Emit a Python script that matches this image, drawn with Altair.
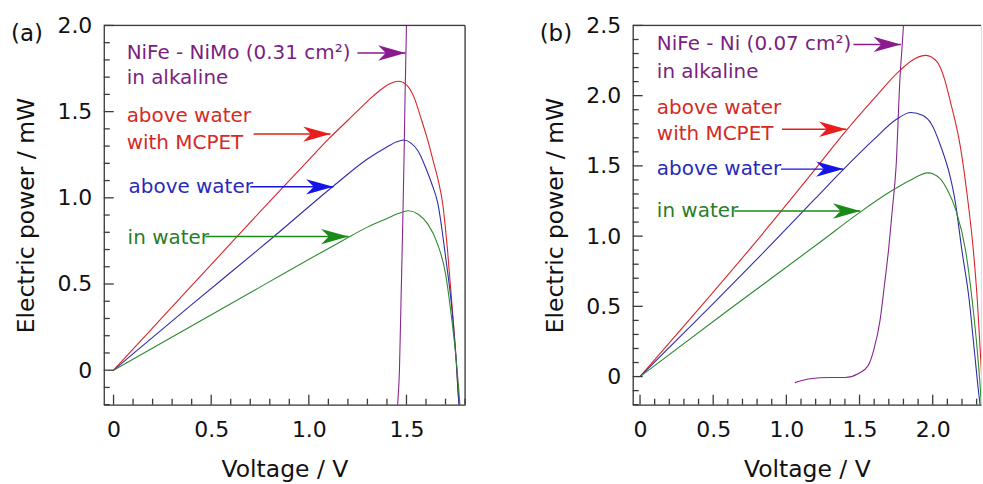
import altair as alt
import pandas as pd

# ---------------- panel (a): NiFe - NiMo ----------------
red_a_v = [0, 0.2, 0.4, 0.6, 0.8, 1.0, 1.1, 1.2, 1.3, 1.36, 1.42, 1.46, 1.50, 1.54, 1.572, 1.61, 1.64, 1.665, 1.685, 1.71, 1.735, 1.755, 1.767, 1.78]
red_a_p = [0, 0.245, 0.49, 0.735, 0.98, 1.22, 1.34, 1.45, 1.56, 1.62, 1.665, 1.676, 1.655, 1.58, 1.47, 1.33, 1.20, 1.09, 0.97, 0.70, 0.35, 0.05, -0.17, -0.3]
blue_a_v = [0, 0.4, 0.8, 1.128, 1.3, 1.4, 1.45, 1.485, 1.52, 1.56, 1.6, 1.63, 1.66, 1.70, 1.735, 1.755, 1.767, 1.78]
blue_a_p = [0, 0.38, 0.755, 1.07, 1.225, 1.295, 1.325, 1.335, 1.32, 1.27, 1.17, 1.08, 0.97, 0.66, 0.33, 0.05, -0.17, -0.3]
green_a_v = [0, 0.6, 1.17, 1.3, 1.4, 1.46, 1.51, 1.56, 1.608, 1.66, 1.70, 1.726, 1.75, 1.767, 1.78]
green_a_p = [0, 0.385, 0.75, 0.83, 0.88, 0.91, 0.925, 0.905, 0.85, 0.73, 0.56, 0.35, 0.115, -0.1, -0.3]
purple_a_v = [1.45, 1.455, 1.464, 1.472, 1.48, 1.487, 1.493, 1.50, 1.502]
purple_a_p = [-0.3, -0.2, 0.0, 0.4, 0.8, 1.2, 1.6, 2.0, 2.1]

# ---------------- panel (b): NiFe - Ni ----------------
red_b_v = [0, 0.4, 0.8, 1.2, 1.4, 1.6, 1.776, 1.88, 1.953, 2.03, 2.08, 2.12, 2.19, 2.237, 2.278, 2.305, 2.325, 2.345]
red_b_p = [0, 0.48, 0.97, 1.48, 1.74, 1.98, 2.18, 2.265, 2.287, 2.24, 2.12, 1.96, 1.63, 1.28, 0.895, 0.54, 0.18, -0.2]
blue_b_v = [0, 0.5, 0.915, 1.2, 1.39, 1.6, 1.75, 1.85, 1.93, 1.99, 2.055, 2.12, 2.15, 2.2, 2.25, 2.285, 2.32, 2.33]
blue_b_p = [0, 0.52, 0.96, 1.27, 1.475, 1.69, 1.83, 1.88, 1.86, 1.80, 1.64, 1.42, 1.27, 0.895, 0.54, 0.18, -0.17, -0.25]
green_b_v = [0, 0.6, 1.234, 1.49, 1.7, 1.85, 1.966, 2.05, 2.10, 2.16, 2.225, 2.27, 2.305, 2.325, 2.335]
green_b_p = [0, 0.47, 0.96, 1.16, 1.31, 1.40, 1.45, 1.41, 1.33, 1.18, 0.895, 0.54, 0.18, -0.08, -0.25]
purple_b_v = [1.058, 1.1, 1.173, 1.29, 1.40, 1.49, 1.56, 1.60, 1.64, 1.67, 1.70, 1.725, 1.75, 1.775, 1.80, 1.805]
purple_b_p = [-0.043, -0.03, -0.014, -0.007, -0.007, 0.02, 0.08, 0.2, 0.4, 0.65, 0.92, 1.2, 1.5, 2.1, 2.5, 2.6]

series_names = ["purple", "red", "blue", "green"]
line_colors = ["#86278e", "#d8262a", "#2e2eaa", "#2f8a2f"]

# annotation texts (left x in V, centre y in mW)
text_a = ["NiFe - NiMo (0.31 cm²)", "in alkaline", "above water", "with MCPET", "above water", "in water"]
text_a_v = [0.067, 0.067, 0.067, 0.067, 0.077, 0.072]
text_a_p = [1.84, 1.694, 1.474, 1.318, 1.064, 0.769]
text_b = ["NiFe - Ni (0.07 cm²)", "in alkaline", "above water", "with MCPET", "above water", "in water"]
text_b_v = [0.115, 0.115, 0.115, 0.115, 0.115, 0.115]
text_b_p = [2.365, 2.166, 1.91, 1.726, 1.477, 1.179]
text_colors = ["#7b1f80", "#7b1f80", "#d42a26", "#d42a26", "#2a2ab8", "#2a7d2a"]

# arrows: start V, tip V, level mW
arrow_a_v0 = [1.249, 0.717, 0.70, 0.47]
arrow_a_v1 = [1.495, 1.111, 1.126, 1.203]
arrow_a_p = [1.84, 1.37, 1.064, 0.775]
arrow_b_v0 = [1.458, 0.97, 0.963, 0.644]
arrow_b_v1 = [1.783, 1.41, 1.39, 1.505]
arrow_b_p = [2.365, 1.761, 1.477, 1.179]
arrow_colors = ["#8a1a8e", "#e61e1e", "#1414e6", "#1a8a1a"]

panel_tags = ["(a)", "(b)"]

FONT = "DejaVu Sans"
AX = "#3a3a3a"
ARROW = "M0,0L-1,-0.28L-0.72,0L-1,0.28Z"
LABEL_EXPR = "datum.value == 0 ? '0' : format(datum.value, '.1f')"


def panel(curves, xdom, ydom, W, H, xmaj, xmin, ymaj, ymin, texts, tv, tp, av0, av1, ap, tag, right_frame):
    rows = []
    for name, (vs, ps) in zip(series_names, curves):
        for i, (v, p) in enumerate(zip(vs, ps)):
            rows.append({"V": v, "P": p, "s": name, "i": i})
    df = pd.DataFrame(rows)
    xs = alt.Scale(domain=xdom, nice=False, zero=False)
    ys = alt.Scale(domain=ydom, nice=False, zero=False)
    xax = alt.Axis(values=xmaj, labelExpr=LABEL_EXPR, ticks=False, tickSize=0, grid=False,
                   domainColor=AX, domainWidth=1.3, labelPadding=15, labelFontSize=22,
                   labelColor="#111", labelFont=FONT, title="Voltage / V", titleFont=FONT,
                   titleFontSize=23.5, titleFontWeight="normal",
                   titleColor="#111", titleY=72, titleBaseline="alphabetic")
    yax = alt.Axis(values=ymaj, labelExpr=LABEL_EXPR, ticks=False, tickSize=0, grid=False,
                   domainColor=AX, domainWidth=1.3, labelPadding=12, labelFontSize=22,
                   labelColor="#111", labelFont=FONT, title="Electric power / mW", titleFont=FONT,
                   titleFontSize=23.5, titleFontWeight="normal", titleColor="#111",
                   titleX=-70, titleY=H / 2, titleAngle=270, titleBaseline="alphabetic",
                   titleAlign="center")

    def X(field):
        return alt.X(field, scale=xs, axis=xax)

    def Y(field):
        return alt.Y(field, scale=ys, axis=yax)

    lines = alt.Chart(df).mark_line(clip=True, strokeWidth=1.1, interpolate="monotone").encode(
        x=X("V:Q"), y=Y("P:Q"),
        color=alt.Color("s:N", scale=alt.Scale(domain=series_names, range=line_colors), legend=None),
        order="i:Q",
    )

    def ticks_x(vals, L):
        return alt.Chart(pd.DataFrame({"V": vals})).mark_rule(color=AX, strokeWidth=1.3).encode(
            x=X("V:Q"), y=alt.value(H), y2=alt.value(H - L))

    def ticks_y(vals, L):
        return alt.Chart(pd.DataFrame({"P": vals})).mark_rule(color=AX, strokeWidth=1.3).encode(
            y=Y("P:Q"), x=alt.value(0), x2=alt.value(L))

    one = pd.DataFrame({"k": [0]})
    top = alt.Chart(one).mark_rule(color=AX, strokeWidth=1.3).encode(
        x=alt.value(0), x2=alt.value(W), y=alt.value(0))
    layers = [lines, ticks_x(xmaj, 10), ticks_x(xmin, 6), ticks_y(ymaj, 10), ticks_y(ymin, 6), top]
    if right_frame:
        layers.append(alt.Chart(one).mark_rule(color=AX, strokeWidth=1.3).encode(
            x=alt.value(W), y=alt.value(0), y2=alt.value(H)))

    tdf = pd.DataFrame({"V": tv, "P": tp, "txt": texts, "c": text_colors})
    layers.append(alt.Chart(tdf).mark_text(align="left", baseline="middle", font=FONT, fontSize=20).encode(
        x=X("V:Q"), y=Y("P:Q"), text="txt:N", color=alt.Color("c:N", scale=None)))

    adf = pd.DataFrame({"V": av0, "V1": av1, "P": ap, "c": arrow_colors})
    layers.append(alt.Chart(adf).mark_rule(strokeWidth=1.5).encode(
        x=X("V:Q"), x2="V1:Q", y=Y("P:Q"), color=alt.Color("c:N", scale=None)))
    layers.append(alt.Chart(adf).mark_point(shape=ARROW, filled=True, size=3000, opacity=1, strokeWidth=0).encode(
        x=X("V1:Q"), y=Y("P:Q"), color=alt.Color("c:N", scale=None)))

    layers.append(alt.Chart(pd.DataFrame({"tag": [tag]})).mark_text(
        font=FONT, fontSize=23, align="center", baseline="middle", color="#111").encode(
        x=alt.value(-77), y=alt.value(9), text="tag:N"))

    return alt.layer(*layers).properties(width=W, height=H)


xmin_a = [round(0.1 * k, 1) for k in range(1, 19) if k % 5]
ymin_a = [round(-0.2 + 0.1 * k, 1) for k in range(0, 23) if round(-0.2 + 0.1 * k, 1) not in (0.0, 0.5, 1.0, 1.5, 2.0)]
xmin_b = [round(0.1 * k, 1) for k in range(1, 24) if k % 5]
ymin_b = [round(-0.2 + 0.1 * k, 1) for k in range(0, 28) if round(-0.2 + 0.1 * k, 1) not in (0.0, 0.5, 1.0, 1.5, 2.0, 2.5)]

pa = panel([(purple_a_v, purple_a_p), (red_a_v, red_a_p), (blue_a_v, blue_a_p), (green_a_v, green_a_p)],
           [-0.05, 1.8], [-0.2, 2.0], 362, 380, [0, 0.5, 1.0, 1.5], xmin_a,
           [0, 0.5, 1.0, 1.5, 2.0], ymin_a, text_a, text_a_v, text_a_p,
           arrow_a_v0, arrow_a_v1, arrow_a_p, panel_tags[0], True)
pb = panel([(purple_b_v, purple_b_p), (red_b_v, red_b_p), (blue_b_v, blue_b_p), (green_b_v, green_b_p)],
           [-0.05, 2.33], [-0.2, 2.5], 349, 380, [0, 0.5, 1.0, 1.5, 2.0], xmin_b,
           [0, 0.5, 1.0, 1.5, 2.0, 2.5], ymin_b, text_b, text_b_v, text_b_p,
           arrow_b_v0, arrow_b_v1, arrow_b_p, panel_tags[1], False)

chart = alt.hconcat(pa, pb, spacing=168, bounds="flush").configure_view(stroke=None).configure(
    font=FONT, background="white").properties(padding={"left": 10, "top": 13, "right": 0, "bottom": 0})

chart.save("out.html", embed_options={"renderer": "svg", "actions": False})
